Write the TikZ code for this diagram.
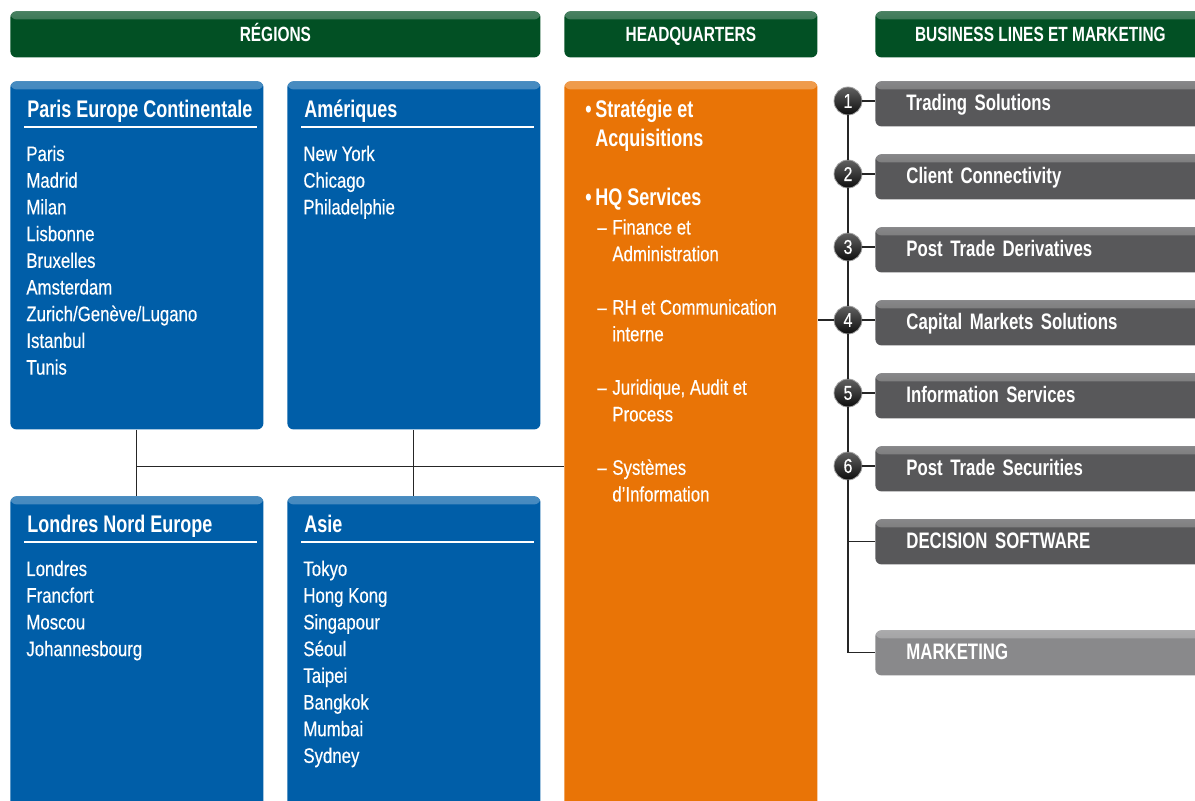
\documentclass[tikz,border=0pt]{standalone}
\usepackage{fontspec}
\setmainfont{Liberation Sans}[FakeStretch=0.8, FakeBold=0.35]
\newfontfamily\dinbold{Liberation Sans}[FakeStretch=0.75]
\usetikzlibrary{calc,positioning}

\definecolor{hdgreen}{RGB}{2,80,36}
\definecolor{regblue}{RGB}{0,94,168}
\definecolor{hqorange}{RGB}{233,116,6}
\definecolor{bldark}{RGB}{88,88,90}
\definecolor{blmid}{RGB}{137,137,139}

\tikzset{
  link/.style={line width=0.55pt, draw=black!85},
  gloss/.style={fill=#1, rounded corners=3pt, inner sep=0pt, anchor=north west,
    path picture={\shade[top color=white!28!#1, bottom color=#1]
      (path picture bounding box.north west) rectangle ([yshift=-4pt]path picture bounding box.north east);}},
  header/.style={gloss=hdgreen, minimum height=23pt, text=white,
    text height=7.4pt, text depth=0pt,
    font=\dinbold\bfseries\fontsize{10.3}{12}\selectfont},
  regbox/.style={gloss=regblue, minimum width=126.5pt},
  regtitle/.style={anchor=base west, inner sep=0pt, text=white,
    font=\dinbold\bfseries\fontsize{12}{14}\selectfont},
  town/.style={anchor=base west, inner sep=0pt, text=white, font=\fontsize{10.5}{12}\selectfont},
  rule/.style={draw=white, line width=0.8pt},
  hqhead/.style={regtitle},
  hqdot/.style={anchor=base east, inner xsep=1.5pt, inner ysep=0pt, text=white,
    font=\dinbold\bfseries\fontsize{12}{14}\selectfont},
  hqsub/.style={town},
  blbox/.style={gloss=bldark, minimum width=165pt, minimum height=22.5pt,
    inner xsep=15.5pt, text width=134pt, align=left, text=white,
    text height=8.4pt, text depth=1.6pt,
    font=\dinbold\bfseries\fontsize{11.2}{13}\selectfont},
  numdot/.style={circle, minimum size=14pt, inner sep=0pt, top color=black!62,
    bottom color=black!95, draw=black!35, line width=0.4pt, text=white,
    font=\fontsize{10}{12}\selectfont}
}

% name, corner, height, title, towns
\newcommand{\regionbox}[5]{%
  \node[regbox, minimum height=#3] (#1) at (#2) {};
  \node[regtitle] (#1-t) at ($(#1.north west)+(17,36.5)$) {#4};
  \draw[rule] ($(#1.north west)+(14,46)$) -- ($(#1.north east)+(-7,46)$);
  \foreach \c [count=\i from 0] in {#5}
    \node[town] (#1-\i) at ($(#1.north west)+(16,{80+26.7*\i})$) {\c};
}

\begin{document}
\begin{tikzpicture}[x=0.5pt, y=-0.5pt]
  \useasboundingbox (0,0) rectangle (1195,801);
  \clip (0,0) rectangle (1195,801);

  % headers
  \node[header, minimum width=265pt] (hd-reg) at (10,11) {RÉGIONS};
  \node[header, minimum width=126.5pt] (hd-hq) at (564,11) {HEADQUARTERS};
  \node[header, minimum width=165pt] (hd-bl) at (875,11) {BUSINESS LINES ET MARKETING};

  % regions
  \regionbox{paris}{10,81}{174pt}{Paris Europe Continentale}%
    {Paris,Madrid,Milan,Lisbonne,Bruxelles,Amsterdam,Zurich/Genève/Lugano,Istanbul,Tunis}
  \regionbox{amer}{287,81}{174pt}{Amériques}{New York,Chicago,Philadelphie}
  \regionbox{londres}{10,496}{170pt}{Londres Nord Europe}{Londres,Francfort,Moscou,Johannesbourg}
  \regionbox{asie}{287,496}{170pt}%
    {Asie}{Tokyo,Hong Kong,Singapour,Séoul,Taipei,Bangkok,Mumbai,Sydney}

  % headquarters
  \node[gloss=hqorange, minimum width=126.5pt, minimum height=380pt] (hq) at (564,81) {};
  \node[hqhead] (hq-a1) at (595,117.5) {Stratégie et};
  \node[hqhead] (hq-a2) at (595,146.5) {Acquisitions};
  \node[hqhead] (hq-b1) at (595,205.5) {HQ Services};
  \node[hqdot] (hq-da) at (hq-a1.base west) {\textbullet};
  \node[hqdot] (hq-db) at (hq-b1.base west) {\textbullet};
  \foreach \t/\k in {Finance et/0, Administration/1, RH et Communication/3, interne/4,
      {Juridique, Audit et}/6, Process/7, Systèmes/9, d’Information/10}
    \node[hqsub] (hq-s\k) at (612,{234.5+26.7*\k}) {\t};
  \foreach \k in {0,3,6,9}
    \node[hqsub] (hq-m\k) at (597,{234.5+26.7*\k}) {–};

  % links between regions
  \coordinate (hub) at ($(paris.south)!0.55!(londres.north)$);
  \draw[link] (paris) -- (londres);
  \draw[link] (amer) -- (asie);
  \draw[link] (hub) -- (hub -| hq.west);

  % business lines
  \foreach \t [count=\i] in {Trading Solutions,Client Connectivity,Post Trade Derivatives,
      Capital Markets Solutions,Information Services,Post Trade Securities} {
    \node[blbox] (bl\i) at (875,{81+73*(\i-1)}) {\t};
    \node[numdot] (n\i) at (848,{101+73*(\i-1)}) {\i};
    \draw[link] (n\i) -- (n\i -| bl\i.west);
  }
  \node[blbox] (dec) at (875,519) {DECISION SOFTWARE};
  \node[blbox, gloss=blmid] (mkt) at (875,630) {MARKETING};

  \foreach \a/\b in {1/2,2/3,3/4,4/5,5/6}
    \draw[link] (n\a) -- (n\b);
  \draw[link] (n6) |- (mkt.west);
  \draw[link] (dec.west) -- (dec.west -| n6);
  \draw[link] (n4) -- (n4 -| hq.east);
\end{tikzpicture}
\end{document}
